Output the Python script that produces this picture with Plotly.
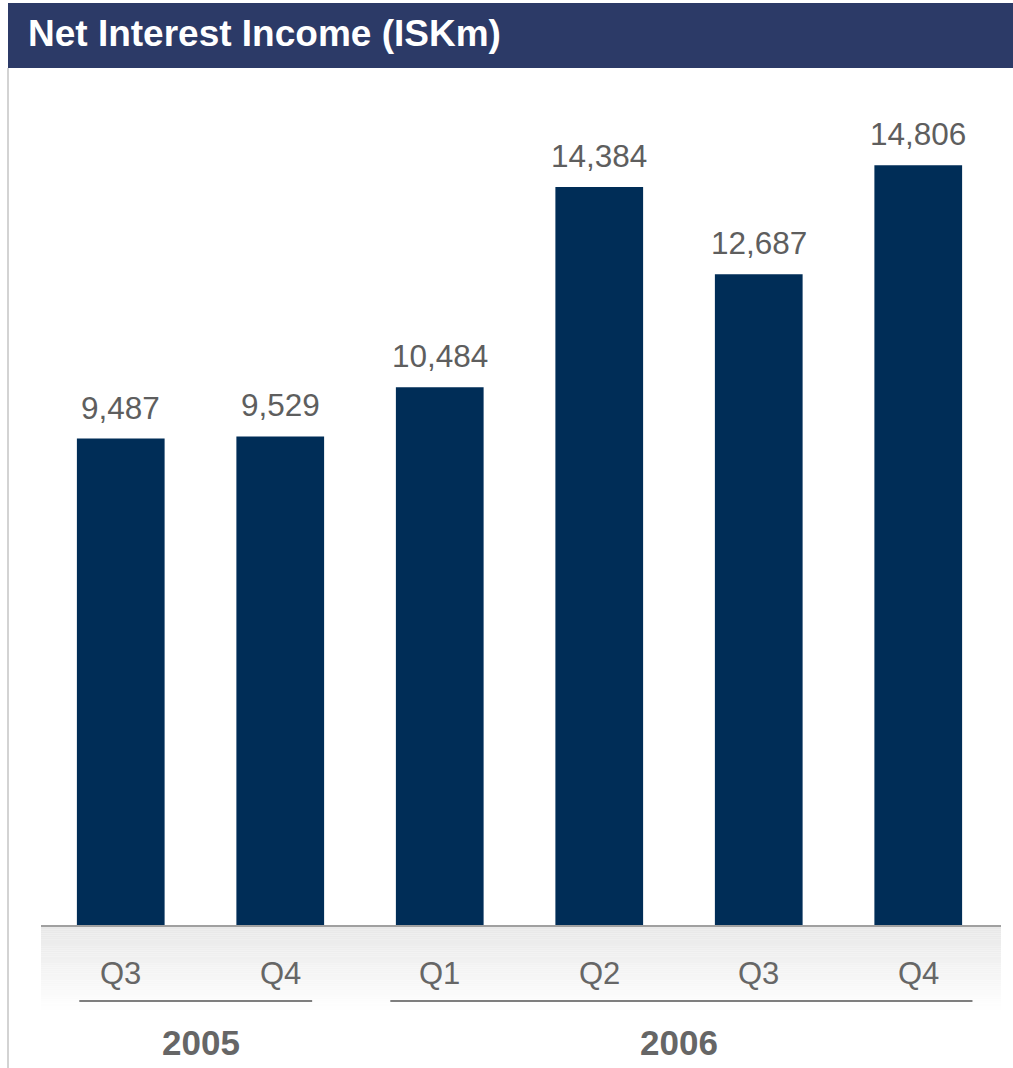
import plotly.graph_objects as go

# Net interest income by quarter, ISK millions
quarters = ["Q3", "Q4", "Q1", "Q2", "Q3", "Q4"]
years = ["2005", "2005", "2006", "2006", "2006", "2006"]
nii = [9487, 9529, 10484, 14384, 12687, 14806]

title = "Net Interest Income (ISKm)"
bar_color = "#002D57"
header_color = "#2C3A67"
text_gray = "#5E5E5E"

W, H = 1013, 1068
ML, MR, MT, MB = 41, 15, 70, 142
plot_h = H - MT - MB
plot_w = W - ML - MR


def py(pix):
    """Pixel row -> paper y."""
    return (H - MB - pix) / plot_h


def px(pix):
    """Pixel column -> paper x."""
    return (pix - ML) / plot_w


xs = list(range(len(nii)))

fig = go.Figure(
    go.Bar(
        x=xs,
        y=nii,
        marker=dict(color=bar_color, line=dict(width=0)),
        width=0.55,
        hoverinfo="skip",
    )
)

shapes = []
annotations = []

# header band with title
shapes.append(dict(type="rect", xref="paper", yref="paper",
                   x0=px(8), x1=px(W), y0=py(68), y1=py(3),
                   fillcolor=header_color, line=dict(width=0), layer="above"))
annotations.append(dict(text=f"<b>{title}</b>", xref="paper", yref="paper",
                        x=px(26), y=py(34), xanchor="left", yanchor="middle",
                        showarrow=False, font=dict(size=37, color="white")))

# thin frame line on the left
shapes.append(dict(type="line", xref="paper", yref="paper",
                   x0=px(8), x1=px(8), y0=py(68), y1=py(H),
                   line=dict(color="#C4C4C4", width=1.5)))

# soft gray band under the baseline, fading to white
n_steps = 40
top_pix, bot_pix = 927, 1012
for k in range(n_steps):
    t = k / (n_steps - 1)
    c = int(round(232 + (255 - 232) * t))
    y0 = top_pix + (bot_pix - top_pix) * k / n_steps
    y1 = top_pix + (bot_pix - top_pix) * (k + 1) / n_steps
    shapes.append(dict(type="rect", xref="paper", yref="paper",
                       x0=px(41), x1=px(1001), y0=py(y1), y1=py(y0),
                       fillcolor=f"rgb({c},{c},{c})", line=dict(width=0),
                       layer="below"))

# baseline
shapes.append(dict(type="line", xref="paper", yref="paper",
                   x0=px(41), x1=px(1001), y0=py(926), y1=py(926),
                   line=dict(color="#A0A0A0", width=2)))

# value labels above bars
for x, v in zip(xs, nii):
    annotations.append(dict(text=f"{v:,}", x=x, y=v, xref="x", yref="y",
                            yanchor="middle", yshift=31, showarrow=False,
                            font=dict(size=31.5, color=text_gray)))

# quarter labels
for x, q in zip(xs, quarters):
    annotations.append(dict(text=q, x=x, y=py(973), xref="x", yref="paper",
                            yanchor="middle", showarrow=False,
                            font=dict(size=31, color="#666666")))

# year groups: underline and bold label
groups = []
for i, yv in enumerate(years):
    if groups and groups[-1][0] == yv:
        groups[-1][2] = i
    else:
        groups.append([yv, i, i])
underline_pad = {"2005": (0.26, 0.2), "2006": (0.31, 0.34)}
for yv, first, last in groups:
    lp, rp = underline_pad[yv]
    shapes.append(dict(type="line", xref="x", yref="paper",
                       x0=first - lp, x1=last + rp,
                       y0=py(1001), y1=py(1001),
                       line=dict(color="#555555", width=1.5)))
    annotations.append(dict(text=f"<b>{yv}</b>", x=(first + last) / 2, y=py(1042),
                            xref="x", yref="paper", yanchor="middle",
                            showarrow=False, font=dict(size=35, color="#666666")))

fig.update_layout(
    width=W, height=H,
    margin=dict(l=ML, r=MR, t=MT, b=MB),
    paper_bgcolor="white", plot_bgcolor="rgba(0,0,0,0)",
    font=dict(family="Liberation Sans, Arial, sans-serif"),
    showlegend=False,
    shapes=shapes,
    annotations=annotations,
    xaxis=dict(range=[-0.5, len(nii) - 0.5], showticklabels=False,
               showgrid=False, zeroline=False, showline=False, ticks=""),
    yaxis=dict(range=[0, 16660], showticklabels=False, showgrid=False,
               zeroline=False, showline=False, ticks=""),
)

fig.write_html("out.html")
